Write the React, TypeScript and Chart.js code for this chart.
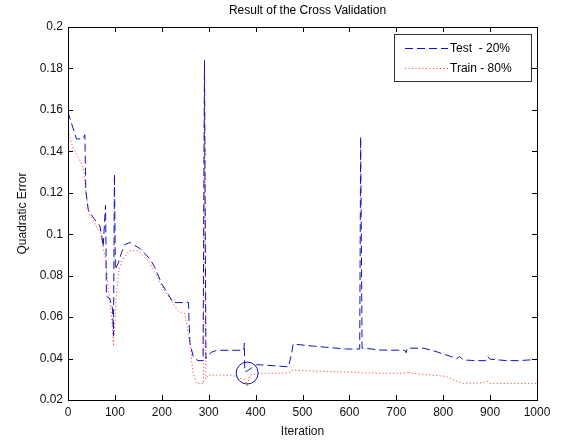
import React, { useEffect, useRef } from "react";
import { Chart, registerables } from "chart.js";

Chart.register(...registerables);

const chartTitle = "Result of the Cross Validation";
const xTitle = "Iteration";
const yTitle = "Quadratic Error";
const testLabel = "Test  - 20%";
const trainLabel = "Train - 80%";

const testIter = [0, 4, 18, 31, 36, 38, 43, 54, 61, 68, 72, 75, 80, 81, 82, 89, 95, 97, 99, 101, 107, 114, 121, 132, 154, 175, 185, 200, 214, 224, 257, 258, 260, 267, 277, 288, 291, 294, 300, 306, 317, 364, 375, 376, 377, 382, 392, 402, 409, 470, 477, 480, 523, 594, 622, 624, 627, 633, 665, 718, 721, 723, 758, 779, 807, 829, 835, 843, 871, 890, 895, 900, 935, 963, 1000];
const testErr = [0.159, 0.156, 0.146, 0.146, 0.148, 0.121, 0.112, 0.108, 0.106, 0.104, 0.099, 0.094, 0.114, 0.094, 0.07, 0.069, 0.064, 0.051, 0.129, 0.083, 0.086, 0.091, 0.095, 0.096, 0.093, 0.088, 0.084, 0.076, 0.071, 0.067, 0.067, 0.0586, 0.0475, 0.041, 0.039, 0.039, 0.184, 0.04, 0.042, 0.043, 0.044, 0.044, 0.044, 0.0475, 0.0337, 0.034, 0.0355, 0.037, 0.037, 0.036, 0.0425, 0.047, 0.046, 0.0446, 0.0446, 0.147, 0.045, 0.045, 0.0441, 0.044, 0.0428, 0.045, 0.045, 0.0438, 0.0417, 0.04, 0.041, 0.0393, 0.039, 0.039, 0.041, 0.0397, 0.039, 0.039, 0.0396];

const trainIter = [0, 10, 20, 33, 38, 45, 60, 70, 75, 80, 86, 93, 97, 104, 109, 115, 130, 150, 175, 200, 221, 235, 249, 262, 264, 267, 274, 289, 291, 294, 299, 324, 350, 362, 377, 382, 388, 409, 470, 480, 523, 622, 633, 722, 725, 728, 807, 829, 843, 884, 895, 900, 1000];
const trainErr = [0.15, 0.142, 0.138, 0.132, 0.12, 0.11, 0.104, 0.1, 0.093, 0.088, 0.073, 0.06, 0.046, 0.073, 0.083, 0.087, 0.092, 0.092, 0.086, 0.075, 0.0675, 0.063, 0.0617, 0.045, 0.038, 0.033, 0.028, 0.028, 0.18, 0.03, 0.032, 0.032, 0.032, 0.031, 0.0297, 0.0265, 0.032, 0.0329, 0.033, 0.0345, 0.034, 0.0333, 0.033, 0.0329, 0.034, 0.033, 0.0314, 0.029, 0.028, 0.0283, 0.029, 0.028, 0.028];

const xMin = 0, xMax = 1000, xStep = 100;
const yMin = 0.02, yMax = 0.2, yStep = 0.02;

// highlighted point (circle annotation), in data units
const markIter = 382;
const markErr = 0.033;

const BLUE = "#1414b4";
const RED = "#ff2a2a";
const FONT = "'Liberation Sans', Arial, sans-serif";

const matlabPlugin = {
  id: "matlabDecor",
  afterDraw(chart: any) {
    const { ctx, chartArea } = chart;
    const { left, right, top, bottom } = chartArea;
    const xs = chart.scales.x;
    const ys = chart.scales.y;
    ctx.save();
    // box
    ctx.strokeStyle = "#000";
    ctx.lineWidth = 1;
    ctx.setLineDash([]);
    ctx.strokeRect(Math.round(left) + 0.5, Math.round(top) + 0.5, Math.round(right - left), Math.round(bottom - top));
    // inward ticks
    const tl = 5;
    ctx.beginPath();
    xs.ticks.forEach((t: any) => {
      const px = Math.round(xs.getPixelForValue(t.value)) + 0.5;
      ctx.moveTo(px, bottom);
      ctx.lineTo(px, bottom - tl);
      ctx.moveTo(px, top);
      ctx.lineTo(px, top + tl);
    });
    ys.ticks.forEach((t: any) => {
      const py = Math.round(ys.getPixelForValue(t.value)) + 0.5;
      ctx.moveTo(left, py);
      ctx.lineTo(left + tl, py);
      ctx.moveTo(right, py);
      ctx.lineTo(right - tl, py);
    });
    ctx.stroke();

    // circle annotation
    ctx.strokeStyle = BLUE;
    ctx.beginPath();
    ctx.arc(xs.getPixelForValue(markIter), ys.getPixelForValue(markErr), 11, 0, Math.PI * 2);
    ctx.stroke();

    // title
    ctx.fillStyle = "#000";
    ctx.font = `12px ${FONT}`;
    ctx.textAlign = "center";
    ctx.textBaseline = "middle";
    ctx.fillText(chartTitle, (left + right) / 2 + 5, 11);

    // legend
    const bw = 137, bh = 47;
    const bx = Math.round(right) - 6 - bw;
    const by = Math.round(top) + 7;
    ctx.fillStyle = "#fff";
    ctx.fillRect(bx, by, bw, bh);
    ctx.strokeStyle = "#333";
    ctx.strokeRect(bx + 0.5, by + 0.5, bw, bh);
    const items = chart.data.datasets;
    items.forEach((ds: any, i: number) => {
      const ly = by + 14 + i * 20 + 0.5;
      ctx.strokeStyle = ds.borderColor;
      ctx.lineWidth = 1;
      ctx.setLineDash(ds.borderDash || []);
      ctx.beginPath();
      ctx.moveTo(bx + 11, ly);
      ctx.lineTo(bx + 54, ly);
      ctx.stroke();
      ctx.setLineDash([]);
      ctx.fillStyle = "#000";
      ctx.textAlign = "left";
      ctx.textBaseline = "middle";
      ctx.fillText(ds.label, bx + 56, ly);
    });
    ctx.restore();
  },
};

function fmt(v: number) {
  return String(Number(v.toFixed(2)));
}

export default function App() {
  const ref = useRef<HTMLCanvasElement | null>(null);
  useEffect(() => {
    document.body.style.margin = "0";
    const canvas = ref.current!;
    const chart = new Chart(canvas, {
      type: "line",
      data: {
        datasets: [
          {
            label: testLabel,
            data: testIter.map((x, i) => ({ x, y: testErr[i] })),
            borderColor: BLUE,
            borderWidth: 1,
            borderDash: [8, 4],
            pointRadius: 0,
            fill: false,
            tension: 0,
          },
          {
            label: trainLabel,
            data: trainIter.map((x, i) => ({ x, y: trainErr[i] })),
            borderColor: RED,
            borderWidth: 1,
            borderDash: [1, 2.5],
            pointRadius: 0,
            fill: false,
            tension: 0,
          },
        ],
      },
      options: {
        responsive: false,
        animation: false,
        layout: { padding: { top: 27, right: 24, left: 0, bottom: 0 } },
        plugins: { legend: { display: false }, title: { display: false }, tooltip: { enabled: false } },
        scales: {
          x: {
            type: "linear",
            min: xMin,
            max: xMax,
            ticks: { stepSize: xStep, color: "#111", padding: 5, font: { family: FONT, size: 12 }, maxRotation: 0, callback: (v: any) => String(Number(v)) },
            grid: { display: false, drawTicks: false },
            border: { display: false },
            title: { display: true, text: xTitle, color: "#111", font: { family: FONT, size: 12 }, padding: { top: 0, bottom: 4 } },
            afterFit(scale: any) { scale.height = 43; },
          },
          y: {
            type: "linear",
            min: yMin,
            max: yMax,
            ticks: { stepSize: yStep, color: "#111", padding: 5, font: { family: FONT, size: 12 }, callback: (v: any) => fmt(Number(v)) },
            grid: { display: false, drawTicks: false },
            border: { display: false },
            title: { display: true, text: yTitle, color: "#111", font: { family: FONT, size: 12 }, padding: { top: 15, bottom: 0 } },
            afterFit(scale: any) { scale.width = 68; },
          },
        },
      },
      plugins: [matlabPlugin],
    } as any);
    return () => chart.destroy();
  }, []);
  return (
    <div style={{ position: "fixed", left: 0, top: 0, width: 561, height: 443, background: "#fff" }}>
      <canvas ref={ref} width={561} height={443} style={{ width: 561, height: 443, display: "block" }} />
    </div>
  );
}
